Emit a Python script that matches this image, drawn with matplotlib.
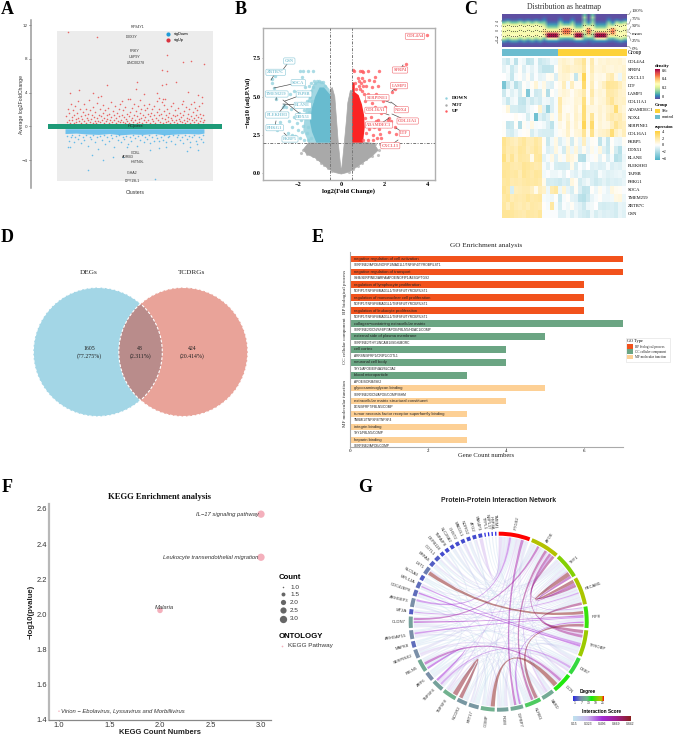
import numpy as np
import matplotlib
matplotlib.use("Agg")
import matplotlib.pyplot as plt
from matplotlib.colors import LinearSegmentedColormap, Normalize
from matplotlib.patches import Circle, Wedge, PathPatch, Polygon, Rectangle
from matplotlib.path import Path

SERIF = "Liberation Serif"
SANS = "Liberation Sans"
W, H = 676, 736

# ---------- A: cluster scatter ----------
a_red = [(2.4,11.2),(22.8,10.6),(73.6,8.4),(84.9,7.6),(90.4,7.7),(99.8,7.4),(70,6.7),(73.6,6.5),(30.2,4.9),(51.6,5.3),(51,4.4),(70,4.9),(73,5.0),(80,5.2),
 (3.3,3.9),(10,4.3),(20.4,4.0),(88.7,4.1),(65.9,4.0),(57,3.8),(96,3.7),(98.4,3.5),(24,3.5),(26,3.6),(68,3.4),(70.5,3.3),(72,3.2),(47,3.2),(54,3.1),(41,3.0),(85,3.0),(93,2.9),
 (1,1.2),(1.5,0.5),(2,2.1),(2.8,0.8),(3.2,1.6),(3.9,0.4),(4.3,2.7),(4.8,1.1),(5.2,0.7),(5.9,1.9),(6.3,0.4),(6.8,1.3),(7.1,2.4),(7.7,0.9),(8.2,0.5),(8.6,1.6),(9.1,3.0),(9.5,1.0),(10.2,0.6),
 (10.8,2.0),(11.3,1.2),(11.7,0.4),(12.2,0.9),(12.9,1.7),(13.3,2.6),(13.8,0.6),(14.4,1.3),(14.9,0.4),(15.3,2.1),(15.9,1.0),(16.4,0.7),(16.8,1.5),(17.4,3.1),(17.9,0.5),(18.3,1.9),(18.9,0.9),(19.4,1.3),(19.8,0.4),
 (20.3,2.3),(20.9,1.1),(21.4,0.6),(21.8,1.7),(22.4,0.4),(22.9,2.8),(23.3,1.0),(23.8,0.6),(24.4,1.4),(25,2.0),(25.4,0.5),(25.9,1.2),(26.4,0.8),(27,1.6),(27.5,2.5),(27.9,0.4),(28.4,1.0),(28.9,1.9),(29.4,0.6),(29.9,1.3),
 (30.4,0.9),(30.9,2.2),(31.4,0.4),(31.9,1.5),(32.5,0.7),(33,2.9),(33.4,1.1),(33.9,0.5),(34.4,1.8),(35,0.8),(35.5,1.3),(35.9,2.4),(36.5,0.4),(37,1.0),(37.4,1.6),(37.9,0.6),(38.5,2.0),(39,1.2),(39.5,0.5),(39.9,2.7),
 (40.4,0.8),(40.9,1.4),(41.5,0.5),(41.9,1.9),(42.4,1.1),(42.9,0.4),(43.5,2.3),(44,0.9),(44.4,1.5),(44.9,0.6),(45.5,3.2),(45.9,1.2),(46.4,0.4),(47,1.7),(47.4,0.8),(47.9,2.2),(48.5,1.0),(49,0.5),(49.4,1.4),(49.9,2.6),
 (50.4,0.7),(50.9,1.8),(51.5,0.4),(52,1.2),(52.4,2.4),(52.9,0.9),(53.5,0.5),(54,1.6),(54.5,2.1),(55,1.0),(55.5,0.4),(55.9,1.4),(56.5,2.5),(57,0.7),(57.5,1.9),(57.9,1.1),(58.5,0.5),(59,2.2),(59.4,1.5),(59.9,0.8),
 (60.4,2.7),(60.9,1.2),(61.5,0.4),(62,1.6),(62.5,0.9),(62.9,2.0),(63.5,0.6),(64,1.3),(64.4,2.4),(64.9,0.4),(65.5,1.0),(66,1.7),(66.5,3.0),(66.9,0.7),(67.5,1.3),(68,2.1),(68.5,0.5),(69,1.5),(69.5,2.9),(69.9,1.0),
 (70.4,0.4),(70.9,1.8),(71.5,2.5),(72,0.9),(72.5,1.3),(72.9,0.5),(73.5,2.0),(74,1.1),(74.4,0.6),(74.9,1.6),(75.5,0.4),(76,2.4),(76.5,1.0),(77,0.7),(77.5,1.4),(77.9,2.8),(78.5,0.5),(79,1.2),(79.5,1.9),(79.9,0.8),
 (80.4,1.4),(80.9,0.4),(81.5,2.2),(82,0.9),(82.5,0.6),(82.9,1.6),(83.5,1.1),(84,2.7),(84.5,0.5),(85,1.3),(85.5,0.8),(86,1.8),(86.5,0.4),(87,2.3),(87.5,1.0),(88,0.6),(88.5,1.5),(89,2.0),(89.5,0.9),(90,0.4),
 (90.5,1.2),(91,2.6),(91.5,0.7),(92,1.7),(92.5,1.0),(93,0.5),(93.5,2.2),(94,1.3),(94.5,0.8),(95,1.9),(95.5,0.4),(96,1.1),(96.5,2.4),(97,0.6),(97.5,1.5),(98,1.0),(98.5,2.8),(99,0.5),(99.4,1.3),(99.9,0.8)]
a_blue = [(1.9,-2.4),(3.5,-2.4),(19.6,-3.37),(27.5,-3.95),(34.7,-3.64),(16.3,-5.2),(65,-6.2),(61.5,-2.75),(44.7,-2.5),(88,-2.87),(96,-2.75),(90,-2.5),(68,-1.7),(73,-2.5),(42,-3.6),
 (1.2,-1.1),(2.5,-1.7),(4,-1.3),(5.2,-1.0),(6.4,-1.9),(7.5,-1.2),(9,-1.5),(10.3,-1.0),(11.5,-2.0),(12.7,-1.3),(14,-1.6),(15.2,-1.0),(16.5,-2.3),(17.7,-1.2),(19,-1.5),(20.3,-1.0),(21.5,-1.9),(22.8,-1.3),(24,-2.7),(25.2,-1.1),(26.5,-1.6),(27.8,-1.0),(29,-2.1),(30.3,-1.3),(31.5,-1.7),(32.8,-1.0),(34,-1.4),(35.2,-2.4),(36.5,-1.1),(37.8,-1.6),(39,-1.0),(40.3,-1.9),(41.5,-1.2),(42.8,-1.5),(44,-1.1),(45.2,-2.1),(46.5,-1.3),(47.8,-1.7),(49,-1.0),(50.3,-1.4),(51.5,-2.3),(52.8,-1.1),(54,-1.6),(55.2,-1.0),(56.5,-1.9),(57.8,-1.2),(59,-1.5),(60.3,-1.0),(61.5,-2.0),(62.8,-1.3),(64,-1.7),(65.2,-1.0),(66.5,-1.4),(67.8,-2.6),(69,-1.2),(70.3,-1.6),(71.5,-1.0),(72.8,-1.9),(74,-1.3),(75.2,-1.1),(76.5,-1.7),(77.8,-1.0),(79,-2.1),(80.3,-1.3),(81.5,-1.0),(82.8,-1.6),(84,-1.2),(85.2,-2.0),(86.5,-1.0),(87.8,-1.5),(89,-1.1),(90.3,-1.9),(91.5,-1.3),(92.8,-1.0),(94,-1.7),(95.2,-2.1),(96.5,-1.2),(97.8,-1.5),(99,-1.0),(99.6,-1.8)]
a_band_x = [0, 8, 16, 24, 32, 40, 48, 56, 64, 72, 80, 88, 96, 100]
a_band_low = [-0.85, -0.8, -0.9, -0.95, -0.85, -1.0, -0.9, -0.95, -0.85, -1.0, -0.9, -0.85, -0.9, -0.8]
a_labels_up = ["RPS4Y1", "DDX3Y", "PRKY", "USP9Y", "LINC00278"]
a_labels_down = ["GCBL", "ADRB3", "HSTN9L", "IGHA2", "DPY19L1"]
a_ticks = [-4, 0, 4, 8, 12]

# ---------- B: volcano ----------
b_gray_edge = [(-1.75,1.55),(-1.6,1.25),(-1.45,1.7),(-1.3,1.1),(-1.2,1.5),(-1.1,0.95),(-1.55,1.9),(-1.35,1.85),(-0.95,0.7),(-0.8,0.55),(-0.62,0.33),(-0.42,0.14),(1.75,1.55),(1.7,1.2),(1.5,1.6),(1.42,1.1),(1.3,1.4),(1.15,0.9),(1.55,1.9),(1.35,1.85),(0.95,0.65),(0.75,0.45),(0.55,0.25),(0.35,0.08),(-0.47,5.5),(-0.45,5.2),(0.46,5.4),(-1.85,1.3),(1.9,1.7),(1.78,1.9)]
b_blue = [(-3.18,5.87),(-3.21,6.15),(-3.09,5.58),(-3.06,6.37),(-3.0,4.85),(-2.63,4.45),(-2.55,4.35),(-2.67,4.3),(-1.9,6.69),(-1.75,6.69),(-1.52,6.69),(-1.29,6.69),(-1.83,6.3),(-2.44,2.6),(-2.29,2.5),(-2.98,2.82),(-2.83,3.37),
 (-2.5,3.9),(-2.4,3.4),(-2.3,4.2),(-2.25,3.0),(-2.2,3.7),(-2.15,2.4),(-2.1,4.5),(-2.05,3.3),(-2.0,2.8),(-1.98,5.1),(-1.95,3.9),(-1.9,2.3),(-1.85,3.5),(-1.85,4.6),(-1.8,2.7),(-1.8,5.3),(-1.75,3.1),(-1.7,4.1),(-1.7,2.2),(-1.68,5.6),(-1.65,3.6),(-1.6,2.6),(-1.6,4.7),(-1.58,5.2),(-1.55,2.2),(-1.55,3.0),(-1.5,5.7),(-1.5,4.0),(-1.45,5.0),(-1.42,2.3),(-1.4,5.4),(-1.38,5.9),(-1.35,4.7),(-1.3,5.6),(-1.25,6.0),(-1.2,5.9),(-1.12,6.05),(-1.05,6.02),(-0.95,5.95),(-0.85,5.95),(-0.75,5.7),(-2.35,5.2),(-2.2,5.4)]
b_red = [(3.96,9.0),(2.96,7.15),(2.86,6.95),(2.47,5.5),(2.32,5.32),(0.6,6.7),(0.86,6.7),(0.94,6.69),(1.01,6.63),(1.21,6.69),(1.55,6.3),(1.75,6.67),(2.47,3.0),(2.5,2.55),(2.3,3.4),(2.2,3.6),(2.15,3.5),(2.2,2.7),(2.1,3.1),(2.0,4.3),(1.9,4.7),(1.85,2.3),(1.8,2.55),(1.75,2.9),(1.7,5.7),(1.65,2.3),(1.6,3.4),(1.6,5.2),(1.55,4.3),(1.5,6.0),(1.5,3.0),(1.45,2.5),(1.4,5.6),(1.4,4.6),(1.35,3.7),(1.3,6.1),(1.3,2.9),(1.25,5.2),(1.25,2.2),(1.2,4.1),(1.2,3.3),(1.15,5.7),(1.15,2.6),(1.1,4.7),(1.1,3.6),(1.05,6.0),(1.05,5.2),(1.0,5.7),(1.0,2.2),(0.95,5.4),(0.95,6.2),(0.9,5.9),(0.85,5.5),(0.8,5.7),(0.8,6.0),(0.7,5.5),(0.65,5.9),(1.45,2.2),(1.7,3.5),(1.85,3.9),(0.55,6.75),(0.75,6.2)]
b_labels_red = ["COL4A4","SFRP4","LAMP3","SERPINE1","NOX4","COL16A1","COL11A1","ADAMDEC1","LTF","CXCL13"]
b_labels_blue = ["GSN","ZBTB7C","SOCA","TMEM259","TAP8B","ELANE","PLEKHH3","DDX51","PHKG1","FKBP5"]

# ---------- C: heatmap ----------
c_genes = ["COL4A4","SFRP4","CXCL13","LTF","LAMP3","COL11A1","ADAMDEC1","NOX4","SERPINE1","COL16A1",
           "FKBP5","DDX51","ELANE","PLEKHH3","TAP8B","PHKG1","SOCA","TMEM259","ZBTB7C","GSN"]
c_matrix = [
 [-0.8,-1.2,-0.3,-1.5,-0.2,-0.4,-1.4,-1.2,-0.2,-1.2,-1.0,-0.8,-0.3,-0.4,0.8,1.0,0.8,0.6,1.2,1.3,2.0,0.3,1.5,0.4,0.8,0.7,0.9,0.8,0.8,0.9,0.6],
 [-0.6,-0.2,-1.2,-0.6,0.1,-0.8,-0.2,-0.6,-0.2,-1.0,-1.4,-1.4,-1.3,0.1,0.7,1.1,1.2,0.9,1.0,1.1,1.8,0.2,1.4,0.6,0.7,0.9,0.7,0.6,0.8,0.7,0.9],
 [0.0,-0.3,-1.3,-0.2,0.1,-0.5,0.2,-0.8,-0.1,-0.6,-0.5,0.2,0.3,-0.8,0.7,0.9,0.8,0.3,-1.3,0.6,3.2,0.2,1.1,0.4,0.5,0.4,1.2,1.5,0.5,-0.4,1.0],
 [-3.0,-1.2,-0.4,-1.6,-1.0,0.1,-0.3,0.2,0.8,-0.2,0.5,-0.6,-0.8,0.1,0.4,1.3,-0.2,1.2,0.3,0.3,2.8,0.2,1.3,0.2,0.7,1.2,2.0,1.9,1.8,1.3,0.8],
 [-1.1,-0.2,-0.7,-0.3,-1.0,0.2,-2.8,-0.2,-1.1,-1.0,0.3,-1.7,0.1,-0.3,0.5,0.8,0.6,0.2,0.7,0.9,1.6,0.1,1.6,0.5,0.8,0.6,1.7,1.6,1.4,1.0,0.9],
 [-0.5,-1.2,-0.4,-0.2,-1.3,-1.4,-0.6,-1.1,-0.7,-1.0,-0.3,-0.4,-0.8,-0.2,1.6,0.5,0.4,0.3,0.8,0.7,2.4,0.2,1.2,0.4,0.7,0.8,1.5,2.0,1.2,1.0,1.1],
 [0.1,0.7,-0.9,-0.9,-1.1,-1.1,-0.5,-0.2,0.0,0.9,-0.7,-2.3,-0.8,-0.2,1.5,0.3,0.2,0.3,0.9,0.4,2.6,0.6,0.6,0.5,0.9,0.6,1.0,1.2,2.6,1.0,0.7],
 [0.0,0.0,0.0,0.2,0.0,-0.1,-0.9,-0.2,-3.2,-0.7,-1.1,-0.7,0.4,-0.2,1.2,0.3,0.8,0.2,1.0,0.6,2.6,0.5,2.0,0.4,0.9,0.5,1.2,1.6,1.3,1.5,0.9],
 [0.1,-1.3,-1.2,0.1,-1.7,0.2,-0.2,0.5,-0.2,-0.1,-0.3,-0.8,-1.5,-0.2,0.5,0.2,1.1,0.3,0.9,0.4,3.2,0.5,2.8,0.3,0.8,0.5,0.6,1.2,2.0,1.4,1.2],
 [0.1,-0.8,-1.0,-0.5,-0.1,0.1,0.2,-0.9,-0.4,-0.8,-0.9,-0.9,-1.0,-0.2,0.2,0.4,1.0,0.2,0.7,0.8,2.0,0.3,2.2,0.5,0.9,1.0,1.3,2.6,1.1,0.7,1.3],
 [2.1,1.6,1.4,1.2,1.6,1.9,1.4,1.4,1.8,1.5,0.2,-1.2,-0.3,0.5,-0.8,-0.3,0.4,-1.0,0.3,-0.5,1.2,-0.4,0.2,0.1,-1.4,-0.3,-1.3,0.1,-0.4,-0.5,0.2],
 [2.0,1.5,1.6,1.4,1.9,1.8,1.3,1.5,1.9,1.6,-0.1,-0.8,-0.6,0.6,-0.2,-1.0,0.8,-0.4,0.7,-0.6,0.3,-0.5,0.4,-0.2,0.6,-0.7,-1.2,0.2,-1.0,-1.6,-0.2],
 [2.4,1.4,2.0,1.3,1.8,1.7,1.6,0.4,1.8,1.9,-0.6,-0.2,0.5,-0.7,0.3,-0.2,0.9,0.6,0.3,-1.6,-1.7,-0.3,-0.1,0.2,-0.6,0.1,-0.8,-0.2,-1.6,-1.4,-0.4],
 [1.9,1.9,1.6,1.5,1.6,2.0,1.9,1.7,1.5,1.6,-0.2,-0.7,-0.1,-0.9,-1.0,-1.0,-0.9,0.4,-0.9,-0.1,-0.5,0.0,-0.7,-0.6,-0.8,-0.7,-0.2,-0.8,-0.6,-0.7,-0.3],
 [2.0,1.9,1.7,1.8,1.4,2.0,1.8,1.6,1.9,1.8,-0.3,-0.1,-0.4,-0.4,-0.2,-0.6,0.0,-0.5,-0.7,-0.3,-1.0,-0.9,-0.8,-1.0,-0.2,-0.5,-0.7,-0.6,-0.5,-0.4,-0.6],
 [1.8,1.9,1.5,1.6,1.5,1.7,1.8,1.7,1.8,1.6,0.4,-1.0,-0.9,-1.0,-1.1,-0.8,-1.0,0.6,0.2,-1.0,-0.6,-0.3,-0.8,-1.1,-0.9,-0.6,-0.9,-0.7,-0.8,-0.7,-0.5],
 [2.0,1.7,-0.9,1.3,1.4,1.5,1.5,1.2,0.4,1.3,1.0,-0.4,1.5,1.8,-0.4,0.8,-0.5,-0.9,0.2,-0.8,-1.4,-1.3,0.1,-0.4,0.3,-0.2,-0.5,0.6,0.3,0.2,-0.1],
 [1.7,1.9,1.4,1.6,1.5,1.6,1.9,1.6,1.7,1.8,-0.2,-0.3,-0.4,0.1,-1.2,-0.2,0.1,-0.6,-0.7,-1.5,-1.6,-1.1,-0.5,-0.2,0.1,-0.4,-0.4,-0.3,0.5,0.6,-0.4],
 [1.8,1.3,1.8,1.5,1.4,1.6,1.4,1.7,1.6,1.5,0.1,-0.2,1.8,-0.2,-0.9,-0.1,-0.3,0.2,-0.5,-0.7,-1.1,-0.4,-0.3,0.0,-0.9,-1.0,-0.9,-0.8,-1.0,-0.5,-0.6],
 [2.0,2.0,1.9,1.7,1.6,1.5,1.8,1.7,1.6,1.9,-0.1,-0.1,-0.1,-0.1,-0.7,-0.7,-0.3,-0.8,-0.4,-0.8,-1.0,-1.1,-0.4,-0.9,-0.6,-0.8,-0.7,-0.8,-1.0,-0.5,-0.7]]
# Density profiles per sample, listed from the top of the strip to the bottom
dens_ctrl_a = [0,0,0.02,0.12,0.24,0.3,0.31,0.26,0.3,0.31,0.22,0.09,0.02,0]
dens_ctrl_b = [0,0,0.05,0.18,0.28,0.3,0.27,0.3,0.33,0.26,0.16,0.05,0.01,0]
dens_red = [0,0,0,0.03,0.08,0.14,0.26,0.36,0.6,0.62,0.3,0.07,0.01,0]
dens_orange = [0,0,0.01,0.06,0.14,0.3,0.47,0.52,0.44,0.26,0.1,0.03,0,0]
dens_tall = [0.12,0.18,0.13,0.17,0.22,0.27,0.3,0.24,0.2,0.18,0.12,0.05,0.02,0]
dens_green = [0,0.02,0.06,0.14,0.2,0.26,0.33,0.38,0.34,0.26,0.12,0.04,0,0]
dens_order = [dens_ctrl_a,dens_ctrl_b,dens_ctrl_a,dens_ctrl_a,dens_ctrl_b,dens_ctrl_a,dens_ctrl_b,dens_ctrl_a,dens_ctrl_b,dens_ctrl_a,
              dens_green,dens_red,dens_red,dens_red,dens_green,dens_orange,dens_orange,dens_green,dens_red,dens_red,dens_tall,dens_orange,
              dens_tall,dens_red,dens_red,dens_red,dens_green,dens_orange,dens_ctrl_b,dens_ctrl_a,dens_ctrl_b]
dens_q75 = {id(dens_ctrl_a):1.5,id(dens_ctrl_b):1.7,id(dens_red):-0.3,id(dens_orange):0.9,id(dens_tall):1.7,id(dens_green):0.6}
dens_q50 = {id(dens_ctrl_a):0.0,id(dens_ctrl_b):0.2,id(dens_red):-1.0,id(dens_orange):0.0,id(dens_tall):0.3,id(dens_green):-0.2}
dens_q25 = {id(dens_ctrl_a):-1.6,id(dens_ctrl_b):-1.3,id(dens_red):-1.7,id(dens_orange):-0.9,id(dens_tall):-1.0,id(dens_green):-1.0}
quant_labels = ["100%","75%","50%","mean","25%","0%"]

# ---------- D: Venn ----------
venn_names = ["DEGs", "TCDRGs"]
venn_counts = ["1605\n(77.275%)", "48\n(2.311%)", "424\n(20.414%)"]

# ---------- E: GO enrichment ----------
go_terms = ["negative regulation of cell activation","negative regulation of transport","regulation of lymphocyte proliferation",
 "regulation of mononuclear cell proliferation","regulation of leukocyte proliferation","collagen−containing extracellular matrix",
 "external side of plasma membrane","cell cortex","neuronal cell body","blood microparticle","glycosaminoglycan binding",
 "extracellular matrix structural constituent","tumor necrosis factor receptor superfamily binding","integrin binding","heparin binding"]
go_counts = [7,7,6,6,6,7,5,4,4,3,5,4,3,3,3]
go_genes = ["SERPINE2/APOE/NOFIP1/MAD1L1/TNFSF4/TYROBP/LST1","GEM/SERPINE2/ARFA/APOE/NOFIP1/AES3/PTGS2","NOFIP1/TNFSF8/MAD1L1/TNFSF4/TYROBP/LST1",
 "NOFIP1/TNFSF8/MAD1L1/TNFSF4/TYROBP/LST1","NOFIP1/TNFSF8/MAD1L1/TNFSF4/TYROBP/LST1","SERPINE2/DCN/SFBP7/APOE/FBLN5/HDAC1/COMP",
 "SERPINE2/THY1/NCAM1/ISG/BMORC","ARRSN/SFRP1/CRIP2/COTL1","THY1/APOE/EIF4A3/SLC3A2","APOE/SORM/ISK2","SERPINE2/DCN/APOE/COMP/ISHM",
 "DCN/SFRP7/FBLN5/COMP","TNBMI1/TNFSF8/TNFSF4","THY1/FBLN5/COMP","SERPINE2/APOE/COMP"]
go_class = [0,0,0,0,0,1,1,1,1,1,2,2,2,2,2]
go_class_names = ["BP biological process","CC cellular component","MF molecular function"]
go_colors = ["#f2521c","#6ba583","#fdd095"]

# ---------- F: KEGG ----------
kegg_counts = [3, 3, 2, 1]
kegg_logp = [2.57, 2.325, 2.023, 1.45]
kegg_terms = ["IL−17 signaling pathway","Leukocyte transendothelial migration","Malaria","Virion − Ebolavirus, Lyssavirus and Morbillivirus"]
count_legend = [1.0, 1.5, 2.0, 2.5, 3.0]

# ---------- G: chord network ----------
ppi_genes = ["PTGS2","APOE","THY1","PECAM1","IRF8","TYROBP","DEB7","DCN","SARD","KLRB1","IGFBP7","RGM","COMP","KRT17","NCOR2","TNFSF8",
 "TNFSF4","ARF6","FBLN5","SERPINE2","MAPK8","ARHGAP15","CLDN7","MT2A","ARHGEF3","CDC42EP8","MYL12A","SLC5A3","LST1","ERFAS","COTL1",
 "DEFB118","TNFAIP8","SLC26A2","CHST2","MAD2L1","NDRG2","ATG2","PAK4P3","TYPL1","NBPL17","HSP4A","TMEM1"]
ppi_degree = [25,23,20,22,17,21,14,16,10,13,10,9,11,8,8,11,9,7,10,7,5,7,9,4,7,5,5,4,6,4,4,3,3,3,3,3,3,3,3,1,1,1,1]
strong_links = [(28,4,.84),(3,2,.82),(3,1,.7),(22,1,.62),(5,3,.72),(4,9,.8),(12,7,.84),(15,14,.82),(1,9,.68),(18,7,.6),(21,4,.46),(25,5,.5),
 (24,0,.45),(0,10,.6),(1,5,.66),(2,3,.6),(16,6,.42),(22,4,.55),(18,16,.5),(10,4,.5),(23,3,.42),(26,5,.44)]
faint_links = [(0,4,.22),(0,6,.3),(0,12,.26),(0,15,.34),(0,18,.2),(0,22,.24),(0,26,.32),(0,28,.18),(0,31,.3),(0,33,.22),(0,35,.34),(0,38,.36),(0,9,.2),(0,13,.28),(0,20,.17),
 (1,4,.4),(1,6,.24),(1,10,.18),(1,13,.2),(1,16,.34),(1,19,.28),(1,23,.16),(1,25,.2),(1,29,.3),(1,32,.18),(1,36,.24),(1,39,.2),(1,8,.38),(1,11,.17),
 (2,5,.38),(2,7,.22),(2,9,.18),(2,12,.3),(2,14,.2),(2,17,.16),(2,21,.24),(2,27,.18),(2,30,.28),(2,34,.2),(2,37,.3),(2,40,.18),
 (3,6,.2),(3,8,.18),(3,11,.26),(3,13,.16),(3,15,.3),(3,18,.18),(3,20,.2),(3,22,.28),(3,24,.16),(3,26,.2),(3,28,.34),(3,31,.18),(3,41,.2),
 (4,7,.3),(4,10,.18),(4,12,.24),(4,14,.2),(4,16,.3),(4,19,.18),(4,23,.22),(4,30,.16),(4,33,.2),
 (5,8,.26),(5,9,.18),(5,11,.3),(5,13,.16),(5,17,.2),(5,21,.28),(5,27,.17),(5,29,.2),(5,35,.24),(5,42,.18),
 (6,12,.35),(6,15,.2),(6,18,.28),(6,22,.16),(6,25,.2),(7,10,.2),(7,13,.18),(7,16,.3),(7,19,.34),(7,24,.2),(7,36,.18),
 (8,14,.24),(8,20,.18),(8,22,.3),(9,15,.22),(9,18,.16),(9,23,.2),(9,26,.18),(9,34,.26),(10,17,.2),(10,21,.3),(10,28,.16),
 (11,16,.18),(11,22,.28),(11,37,.2),(12,18,.24),(12,24,.2),(12,30,.16),(13,19,.3),(13,25,.18),(14,21,.2),(14,27,.16),(15,22,.24),(17,25,.2),(19,24,.26),(20,26,.18),(21,29,.16),(23,32,.2)]
degree_ticks = [1, 7, 13, 19, 25]
score_ticks = [0.15, 0.323, 0.496, 0.669, 0.842]


fig = plt.figure(figsize=(W/100, H/100), dpi=100, facecolor="white")

def px_axes(l, t, r, b, **kw):
    return fig.add_axes([l/W, 1-b/H, (r-l)/W, (b-t)/H], **kw)

over = fig.add_axes([0, 0, 1, 1], zorder=50)
over.set_xlim(0, W); over.set_ylim(H, 0); over.axis("off"); over.patch.set_alpha(0)

def put(x, y, s, size=4, family=SERIF, ha="center", va="center", **kw):
    return over.text(x, y, s, fontsize=size, family=family, ha=ha, va=va, **kw)

for letter, x, y in [("A",1,10),("B",235,10),("C",464,10),("D",1,237),("E",312,237),("F",2,487),("G",358,487)]:
    put(x, y, letter, size=13, weight="bold", ha="left")

# ---------- A ----------
ax = px_axes(31, 20, 222, 188)
ax.set_xlim(-24.5, 113); ax.set_ylim(-7.3, 12.6)
ax.add_patch(Rectangle((-5.8, -6.47), 112.3, 17.77, fc="#ececec", ec="none", zorder=0))
ax.fill_between(a_band_x, a_band_low, -0.28, color="#6fc1ec", lw=0, zorder=1)
rx, ry = zip(*a_red); bx, by = zip(*a_blue)
ax.scatter(rx, ry, s=1.3, c="#e8504f", lw=0, alpha=.85, zorder=2)
ax.scatter(bx, by, s=1.3, c="#4fb3e8", lw=0, alpha=.85, zorder=2)
ax.add_patch(Rectangle((-12.2, -0.31), 125.2, 0.54, fc="#1d9a77", ec="none", zorder=3))
ax.set_xticks([]); ax.set_yticks(a_ticks)
ax.tick_params(axis="y", labelsize=3, length=1.5, width=.5, pad=1, colors="#333333")
for side in ["top", "right", "bottom"]:
    ax.spines[side].set_visible(False)
ax.spines["left"].set_color("#9a9a9a"); ax.spines["left"].set_linewidth(1.1)
ax.patch.set_alpha(0)
put(135, 125.5, "HC|case", size=3, family=SANS, color="#222222")
for s, x, y in zip(a_labels_up, [138,131.5,134.7,134.7,135.7], [27,36.7,51,56.7,62.7]):
    put(x, y, s, size=2.6, family=SANS, color="#333333")
for s, x, y in zip(a_labels_down, [135.7,128,138,131.7,132], [153,157.3,162,172.7,181.3]):
    put(x, y, s, size=2.6, family=SANS, color="#333333")
over.scatter([168.3], [34.3], s=9, c="#1f9bd8", lw=0); over.scatter([168.3], [39.7], s=9, c="#d9333f", lw=0)
put(173.5, 34.3, "sigDown", size=2.8, family=SANS, ha="left"); put(173.5, 39.7, "sigUp", size=2.8, family=SANS, ha="left")
put(135, 192, "Clusters", size=3.7, family=SANS, color="#333333")
put(21.7, 104, "Average log2FoldChange", size=3.7, family=SANS, rotation=90, color="#333333")

# ---------- B ----------
ax = px_axes(263, 28, 435, 180)
ax.set_xlim(-3.61, 4.32); ax.set_ylim(-0.44, 9.48)
gray_outline = [(0,-.05),(-.3,.05),(-.6,.3),(-.9,.65),(-1.2,1.0),(-1.6,1.25),(-1.75,1.55),(-1.5,2.0),(-.5,2.0),(-.5,5.4),(-.42,5.6),(-.3,5.0),(-.22,3.5),(-.14,2.0),(-.07,1.0),(-.02,.35),(0,.25),
 (.02,.35),(.07,1.0),(.14,2.0),(.24,3.5),(.3,4.6),(.42,5.4),(.5,5.3),(.5,2.0),(1.2,2.0),(1.5,1.95),(1.7,1.5),(1.4,1.1),(1.1,.8),(.8,.5),(.5,.2),(.25,.04)]
ax.add_patch(Polygon(gray_outline, fc="#a9a9a9", ec="#a9a9a9", lw=.5, zorder=1))
blue_fringe = [(-.5,2),(-1.5,2),(-1.75,2.8),(-1.7,3.6),(-1.6,4.4),(-1.45,5.2),(-1.3,5.8),(-1.05,6.0),(-.8,5.9),(-.55,5.5),(-.5,5.2)]
blue_core = [(-.5,2),(-1.15,2),(-1.35,2.7),(-1.45,3.4),(-1.35,4.3),(-1.2,5.0),(-1.0,5.6),(-.8,5.6),(-.5,5.1)]
ax.add_patch(Polygon(blue_fringe, fc="#a3d8e3", ec="none", zorder=2))
ax.add_patch(Polygon(blue_core, fc="#68bbcf", ec="none", zorder=2))
red_core = [(.5,2),(1.0,2),(1.08,3),(1.05,3.8),(.95,4.5),(.8,5.1),(.62,5.3),(.62,5.9),(.5,5.95)]
ax.add_patch(Polygon(red_core, fc="#fb2424", ec="none", zorder=2))
gx, gy = zip(*b_gray_edge); ax.scatter(gx, gy, s=5, c="#a9a9a9", alpha=.7, lw=0, zorder=2)
bx, by = zip(*b_blue); ax.scatter(bx, by, s=6, c="#8fd0dd", alpha=.75, lw=0, zorder=3)
rx, ry = zip(*b_red); ax.scatter(rx, ry, s=6, c="#ff5a5f", alpha=.8, lw=0, zorder=3)
for v in (-.5, .5):
    ax.axvline(v, color="#777777", lw=.7, ls=(0, (3, 1.5, 1, 1.5)), zorder=4)
ax.axhline(2, color="#777777", lw=.7, ls=(0, (3, 1.5, 1, 1.5)), zorder=4)
ax.set_xticks([-2, 0, 2, 4]); ax.set_yticks([0, 2.5, 5, 7.5]); ax.set_yticklabels(["0.0", "2.5", "5.0", "7.5"])
ax.tick_params(labelsize=4.6, length=1, width=.5, pad=.8, color="#888888")
for t in ax.get_xticklabels() + ax.get_yticklabels():
    t.set_family(SERIF); t.set_weight("bold")
for sp in ax.spines.values():
    sp.set_color("#b0b0b0"); sp.set_linewidth(1)
def vlabel(name, x, y, col, tx=None, ty=None):
    if tx is not None:
        over.plot([x, tx], [y, ty], color="#444444", lw=.45)
    put(x, y, name, size=3.2, weight="bold", color=col,
        bbox=dict(boxstyle="round,pad=0.25", fc="white", ec=col, lw=.4))
red_pos = [(415,36.3,None,None),(400,70,403,65),(399,85.7,392,91),(377.3,97.7,391,103),(401.3,109.7,391,102),(375.7,110.3,389,115),(407.7,121,392,114),(379,125,389,118),(404.3,133.3,396,128),(390.3,145.7,398,140)]
for n, (x, y, tx, ty) in zip(b_labels_red, red_pos):
    vlabel(n, x, y, "#f06a70", tx, ty)
blue_pos = [(289.3,61,282,71),(275.7,72.3,271,80),(298.3,82.7,274,88),(276.7,94,276,100),(304,94,285,101),(302.7,105.3,283,104),(277.3,115,285,105),(303.3,116.7,283,100),(274.7,127.7,276,121),(290,139,284,133)]
for n, (x, y, tx, ty) in zip(b_labels_blue, blue_pos):
    vlabel(n, x, y, "#86c6d6", tx, ty)
put(349, 191.5, "log2(Fold Change)", size=4.8, weight="bold")
put(248.5, 103, "−log10 (adj.P.Val)", size=4.8, weight="bold", rotation=90)
for s, c, y in zip(["DOWN", "NOT", "UP"], ["#8fd0dd", "#a9a9a9", "#ff5a5f"], [98, 104.7, 111]):
    over.scatter([446], [y], s=3, c=c, lw=0)
    put(451.7, y, s, size=3.6, weight="bold", ha="left")

# ---------- C ----------
dens_cmap = plt.get_cmap("Spectral_r")
ax = px_axes(501.7, 14.3, 626, 46.7)
columns = np.array(dens_order).T
ax.imshow(columns, aspect="auto", cmap=dens_cmap, vmin=0, vmax=.62, interpolation="bilinear", extent=(-.5, 30.5, -7, 7))
for i, prof in enumerate(dens_order):
    q = [dens_q75[id(prof)], dens_q50[id(prof)], dens_q25[id(prof)]]
    for k, v in enumerate(q):
        ax.scatter([i-.25, i+.25], [v*1.4, v*1.4], s=.25, c="#222222", lw=0)
ax.set_xticks([]); ax.set_yticks([-4, -2, 0, 2, 4])
ax.tick_params(axis="y", labelsize=2.4, length=1, width=.3, pad=.6, labelrotation=90, colors="#333333")
for sp in ax.spines.values():
    sp.set_visible(False)

ax = px_axes(501.7, 49.3, 626, 56)
ax.imshow([[0]*14 + [1]*17], aspect="auto", cmap=LinearSegmentedColormap.from_list("g", ["#6cbccf", "#fdd23a"]), interpolation="nearest")
ax.axis("off")
put(628, 52.7, "Group", size=4, ha="left")

expr_cmap = LinearSegmentedColormap.from_list("expr", ["#4fb3c8", "#ffffff", "#ffcd30"])
ax = px_axes(502.3, 57.7, 625.7, 218.3)
ax.imshow(c_matrix, aspect="auto", cmap=expr_cmap, vmin=-4, vmax=4, interpolation="nearest")
ax.axis("off")
for i, g in enumerate(c_genes):
    put(628, 57.7+8.03*(i+.5), g, size=3.3, ha="left")
put(564, 7.3, "Distribution as heatmap", size=5.6, color="#333333")
for s, y, yy in zip(quant_labels, [11, 19, 26.3, 34, 41, 48.7], [14.5, 24, 30, 32, 36, 46.5]):
    put(632, y, s, size=3.6, ha="left", color="#222222")
    over.plot([626, 629, 631], [yy, yy, y], color="#555555", lw=.3)
ax = px_axes(655, 69, 660, 98.7)
ax.imshow(np.linspace(1, 0, 64)[:, None], aspect="auto", cmap=dens_cmap); ax.axis("off")
put(655, 65.5, "density", size=3.4, weight="bold", ha="left")
for s, y in zip(["0.6", "0.4", "0.2", "0"], [71, 79.3, 87.7, 97]):
    put(661.5, y, s, size=3.2, ha="left")
put(655, 105, "Group", size=3.4, weight="bold", ha="left")
over.add_patch(Rectangle((655, 108.5), 5, 4, fc="#fdd23a", ec="none"))
over.add_patch(Rectangle((655, 115), 5, 4, fc="#6cbccf", ec="none"))
put(661.5, 110.5, "SSc", size=3.2, ha="left"); put(661.5, 117, "control", size=3.2, ha="left")
put(655, 127, "expression", size=3.1, weight="bold", ha="left")
ax = px_axes(655, 130.7, 660, 160)
ax.imshow(np.linspace(1, 0, 64)[:, None], aspect="auto", cmap=expr_cmap); ax.axis("off")
for s, y in zip(["4", "2", "0", "−2", "−4"], [132, 138.7, 145.5, 152, 158.7]):
    put(661.5, y, s, size=3.2, ha="left")

# ---------- D ----------
ax = px_axes(20, 280, 260, 425)
ax.set_xlim(20, 260); ax.set_ylim(425, 280); ax.set_aspect("equal"); ax.axis("off")
left = Circle((97.8, 352), 64.5, fc="#a3d6e6", ec="none")
right = Circle((183.3, 352), 64.5, fc="#e9a399", ec="none")
ax.add_patch(left); ax.add_patch(right)
lens = Circle((183.3, 352), 64.5, fc="#b98c8b", ec="none")
ax.add_patch(lens); lens.set_clip_path(left)
for c in (97.8, 183.3):
    ax.add_patch(Circle((c, 352), 64.5, fc="none", ec="white", lw=.8, ls=(0, (2.5, 1.5))))
put(89, 272, venn_names[0], size=5.2, color="#222222"); put(192, 272, venn_names[1], size=5.2, color="#222222")
for s, x in zip(venn_counts, [89, 140.3, 192]):
    put(x, 352.3, s, size=4.2, color="#222222", linespacing=1.5)

# ---------- E ----------
ax = px_axes(350, 251.7, 640, 447)
ax.set_xlim(0, 290/38.96); ax.set_ylim(14.55, -0.557)
rows = np.arange(len(go_terms))
ax.barh(rows, go_counts, height=.51, color=[go_colors[c] for c in go_class])
for i in rows:
    ax.text(.1, i, go_terms[i], fontsize=3.0, family=SANS, va="center", color="#222222")
    ax.text(.1, i+.49, go_genes[i], fontsize=2.3, family=SANS, va="center", color="#222222")
ax.set_xticks([0, 2, 4, 6]); ax.set_yticks([])
ax.tick_params(axis="x", labelsize=3.6, length=1, width=.4, pad=.8)
for t in ax.get_xticklabels():
    t.set_family(SERIF)
ax.spines["top"].set_visible(False); ax.spines["right"].set_visible(False)
ax.spines["bottom"].set_bounds(0, 7)
for side in ("left", "bottom"):
    ax.spines[side].set_color("#aaaaaa"); ax.spines[side].set_linewidth(.8)
ax.patch.set_alpha(0)
put(486, 246, "GO Enrichment analysis", size=5.2, color="#222222")
put(486, 455.3, "Gene Count numbers", size=4.8, color="#222222")
for s, y in zip(go_class_names, [292, 341, 404]):
    put(345, y, s, size=3.6, rotation=90, color="#222222")
over.add_patch(Rectangle((625.7, 337.7), 44.3, 24, fc="white", ec="#dddddd", lw=.4))
put(627.3, 340.7, "GO Type", size=3.2, ha="left")
for s, c, y in zip(go_class_names, go_colors, [346.7, 351.7, 357]):
    over.add_patch(Rectangle((627.3, y-2.4), 5.4, 4.8, fc=c, ec="none"))
    put(635, y, s, size=2.4, ha="left", color="#222222")

# ---------- F ----------
ax = px_axes(49, 504.3, 270.7, 720)
ax.set_xlim(.901, 3.096); ax.set_ylim(1.4, 2.626)
area_by_count = {1: 1.2, 2: 16, 3: 27.6}
ax.scatter(kegg_counts, kegg_logp, s=[area_by_count[c] for c in kegg_counts], c="#f4b0bc", lw=0)
text_pos = [(2.975, 2.57, "right"), (2.975, 2.325, "right"), (2.046, 2.04, "center"), (1.02, 1.45, "left")]
for s, (x, y, ha) in zip(kegg_terms, text_pos):
    ax.text(x, y, s, fontsize=4.2, family=SANS, style="italic", ha=ha, va="center", color="#333333")
ax.set_xticks([1, 1.5, 2, 2.5, 3]); ax.set_xticklabels(["1.0", "1.5", "2.0", "2.5", "3.0"])
ax.set_yticks([1.4, 1.6, 1.8, 2.0, 2.2, 2.4, 2.6]); ax.set_yticklabels(["1.4", "1.6", "1.8", "2.0", "2.2", "2.4", "2.6"])
ax.tick_params(labelsize=5.4, length=.8, width=.5, pad=.6, colors="#333333")
for t in ax.get_xticklabels() + ax.get_yticklabels():
    t.set_family(SANS)
ax.spines["top"].set_visible(False); ax.spines["right"].set_visible(False)
ax.spines["left"].set_color("#b8b8b8"); ax.spines["left"].set_linewidth(1.6)
ax.spines["bottom"].set_color("#888888"); ax.spines["bottom"].set_linewidth(.9)
put(160, 497.3, "KEGG Enrichment analysis", size=6.2, weight="bold", color="#111111")
put(160, 732.5, "KEGG Count Numbers", size=5.5, family=SANS, weight="bold", color="#222222")
put(31, 612, "−log10(pvalue)", size=5.6, family=SANS, weight="bold", rotation=90, color="#222222")
put(278.3, 577.7, "Count", size=5.6, family=SANS, weight="bold", ha="left")
for c, y, s in zip(count_legend, [587.3, 594.3, 602.3, 610, 619], [1.2, 8, 14, 20, 27.6]):
    over.scatter([283], [y], s=s, c="#666666", lw=0)
    put(290, y, f"{c:.1f}", size=4.6, family=SANS, ha="left", color="#333333")
put(278.3, 636.7, "ONTOLOGY", size=5.6, family=SANS, weight="bold", ha="left")
over.scatter([282], [646], s=1.5, c="#f4b0bc", lw=0)
put(288, 646, "KEGG Pathway", size=4.6, family=SANS, ha="left", color="#333333")

# ---------- G ----------
deg_cmap = LinearSegmentedColormap.from_list("deg", [(0, "#2a2ae0"), (.25, "#7a8fa8"), (.45, "#6fb98a"), (.6, "#10ec10"), (.85, "#a5c800"), (.93, "#b5c000"), (1, "#ff0000")])
score_cmap = LinearSegmentedColormap.from_list("score", [(0, "#bfe3ee"), (.25, "#c8b4ec"), (.5, "#a32cd8"), (.75, "#a01f90"), (1, "#8b1e1e")])
ax = px_axes(388.7, 511.7, 608.7, 731.7)
ax.set_xlim(-110, 110); ax.set_ylim(-110, 110); ax.set_aspect("equal"); ax.axis("off")
gap = 1.5
unit = (360 - gap*len(ppi_degree)) / sum(ppi_degree)
starts, stops, a = [], [], 0.0
for d in ppi_degree:
    starts.append(a); stops.append(a + d*unit); a += d*unit + gap
def polar(angle, r):
    t = np.radians(angle)
    return r*np.sin(t), r*np.cos(t)
for i, g in enumerate(ppi_genes):
    ax.add_patch(Wedge((0, 0), 90, 90-stops[i], 90-starts[i], width=4, fc=deg_cmap((ppi_degree[i]-1)/24), ec="none"))
    mid = (starts[i]+stops[i])/2
    x, y = polar(mid, 93)
    if mid <= 180:
        ax.text(x, y, g, fontsize=3, family=SANS, rotation=90-mid, rotation_mode="anchor", ha="left", va="center", color="#333333")
    else:
        ax.text(x, y, g, fontsize=3, family=SANS, rotation=270-mid, rotation_mode="anchor", ha="right", va="center", color="#333333")

all_links = strong_links + faint_links
slots = {i: [] for i in range(len(ppi_genes))}
for k, (p, q, s) in enumerate(all_links):
    slots[p].append((k, q)); slots[q].append((k, p))
ends = {}
for i, members in slots.items():
    mid = (starts[i]+stops[i])/2
    pmid = lambda j: (starts[j]+stops[j])/2
    # links whose partner lies just clockwise sit at the clockwise end of the sector
    members.sort(key=lambda m: -((pmid(m[1]) - mid) % 360))
    weights = [1 + 4*all_links[m[0]][2]**3 for m in members]
    edges = np.cumsum([0] + weights) / sum(weights) * (stops[i]-starts[i]) + starts[i]
    for (m, partner), e0, e1 in zip(members, edges[:-1], edges[1:]):
        ends.setdefault(m, []).append((e0, e1))
norm = Normalize(0.15, 0.842)
R = 85
order = sorted(range(len(all_links)), key=lambda k: all_links[k][2])
for k in order:
    s = all_links[k][2]
    (a0, a1), (b0, b1) = ends[k]
    verts = [polar(a0, R), (0, 0), polar(b1, R), polar(b0, R), (0, 0), polar(a1, R), polar(a0, R)]
    codes = [Path.MOVETO, Path.CURVE3, Path.CURVE3, Path.LINETO, Path.CURVE3, Path.CURVE3, Path.CLOSEPOLY]
    ax.add_patch(PathPatch(Path(verts, codes), fc=score_cmap(norm(s)), ec="none", alpha=.35 if s < .4 else .52))

put(498.7, 500, "Protein-Protein Interaction Network", size=4.9, family=SANS, weight="bold", color="#222222")
put(588, 692, "Degree", size=3.4, family=SANS, weight="bold")
ax = px_axes(573.3, 696, 604, 700.7)
ax.imshow(np.linspace(0, 1, 128)[None, :], aspect="auto", cmap=deg_cmap); ax.axis("off")
for v, x in zip(degree_ticks, np.linspace(574.5, 602.5, 5)):
    put(x, 703.3, str(v), size=2.4, family=SANS, color="#333333")
put(601.7, 711.7, "Interaction Score", size=3.4, family=SANS, weight="bold")
ax = px_axes(572.7, 716, 630.7, 721)
ax.imshow(np.linspace(0, 1, 128)[None, :], aspect="auto", cmap=score_cmap); ax.axis("off")
for v, x in zip(score_ticks, np.linspace(574, 630, 5)):
    put(x, 723.7, str(v), size=2.4, family=SANS, color="#333333")

fig.savefig("out.png", dpi=100)
